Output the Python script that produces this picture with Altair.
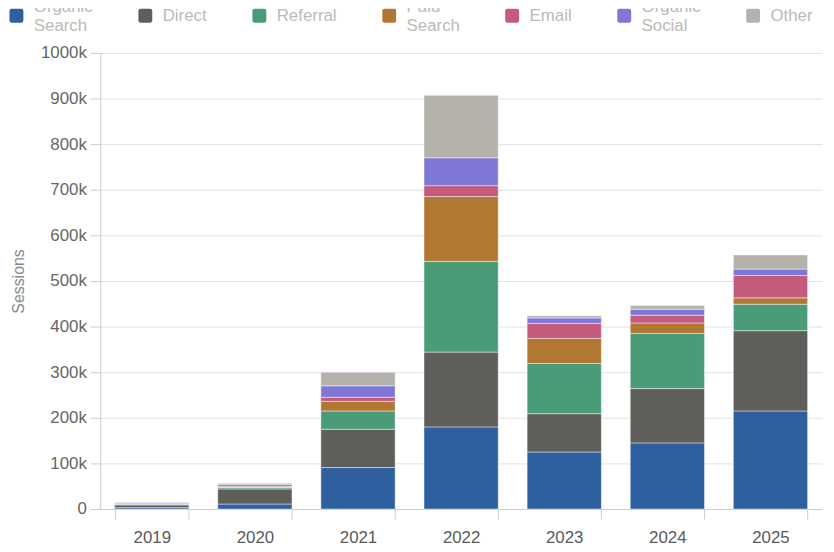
import pandas as pd
import altair as alt

# --- Données (sessions par année et par canal) ---
years = ["2019", "2020", "2021", "2022", "2023", "2024", "2025"]
channels = ["Organic Search", "Direct", "Referral", "Paid Search", "Email", "Organic Social", "Other"]
colors = ["#2e5f9f", "#5f5e5a", "#4a9c78", "#b07832", "#c45b7d", "#7f77d6", "#b5b2ab"]

organic_search = [3000, 11000, 91000, 180000, 125000, 145000, 215000]
direct = [6000, 33000, 84000, 164000, 84000, 119000, 176000]
referral = [1500, 3000, 40000, 199000, 110000, 121000, 58000]
paid_search = [800, 1500, 21000, 142000, 55000, 23000, 14000]
email = [700, 1500, 9000, 24000, 33000, 17000, 49000]
organic_social = [2700, 4000, 25000, 61000, 12000, 13000, 14000]
other = [300, 2500, 30000, 137000, 5000, 8000, 31000]

series = [organic_search, direct, referral, paid_search, email, organic_social, other]

rows = []
for idx, (channel, values) in enumerate(zip(channels, series)):
    for year, v in zip(years, values):
        rows.append({"year": year, "channel": channel, "sessions": v, "idx": idx})
df = pd.DataFrame(rows)

# carré aux coins arrondis pour la légende
rounded = ("M-0.7,-1L0.7,-1A0.3,0.3 0 0 1 1,-0.7L1,0.7A0.3,0.3 0 0 1 0.7,1"
           "L-0.7,1A0.3,0.3 0 0 1 -1,0.7L-1,-0.7A0.3,0.3 0 0 1 -0.7,-1Z")

bars = (
    alt.Chart(df)
    .mark_bar(stroke="white", strokeOpacity=0.45, strokeWidth=1)
    .encode(
        x=alt.X(
            "year:N",
            sort=years,
            scale=alt.Scale(paddingInner=0.28, paddingOuter=0.14),
            axis=alt.Axis(
                title=None, labelAngle=0, tickBand="extent", tickSize=10,
                labelPadding=11, labelColor="#5a5a5a",
            ),
        ),
        y=alt.Y(
            "sessions:Q",
            stack="zero",
            scale=alt.Scale(domain=[0, 1000000]),
            axis=alt.Axis(
                title="Sessions",
                values=list(range(0, 1000001, 100000)),
                labelExpr="datum.value == 0 ? '0' : (datum.value / 1000) + 'k'",
                tickSize=10, labelPadding=4, titlePadding=14,
                labelColor="#666666",
            ),
        ),
        color=alt.Color(
            "channel:N",
            sort=channels,
            scale=alt.Scale(domain=channels, range=colors),
            legend=alt.Legend(
                title=None, orient="none", legendX=-93, legendY=-46,
                direction="horizontal", columns=7, gridAlign="none",
                columnPadding=44, padding=0,
                symbolType=rounded, symbolSize=196, symbolStrokeWidth=0,
                symbolOpacity=1, labelFontSize=17, labelColor="#bdbab3",
                labelOffset=9, labelLimit=200,
                labelExpr="split(datum.label, ' ')",
                labelBaseline=alt.ExprRef(
                    "indexof(datum.label, ' ') > 0 ? 'bottom' : 'middle'"
                ),
            ),
        ),
        order=alt.Order("idx:Q", sort="ascending"),
    )
)

chart = (
    bars.properties(
        width=728,
        height=460,
        padding={"left": 93, "top": 43, "right": 4, "bottom": 36},
        autosize=alt.AutoSizeParams(type="none"),
    )
    .configure(font="Liberation Sans")
    .configure_view(stroke=None)
    .configure_axis(
        labelFontSize=17,
        titleFontSize=16,
        titleFontWeight="normal",
        titleColor="#888888",
        gridColor="#e1e1e1",
        domainColor="#cccccc",
        tickColor="#cccccc",
    )
)

chart.save("out.html", embed_options={"renderer": "svg", "actions": False})
